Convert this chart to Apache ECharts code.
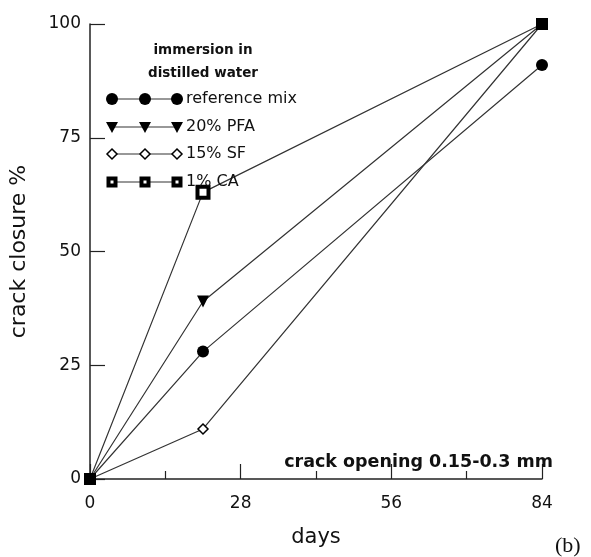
<!DOCTYPE html>
<html>
<head>
<meta charset="utf-8">
<script src="https://cdn.jsdelivr.net/npm/echarts@6/dist/echarts.min.js"></script>
<style>
  html, body { margin: 0; padding: 0; background: #fff; }
  #chart { width: 591px; height: 557px; }
</style>
</head>
<body>
<div id="chart"></div>
<script>
// Crack closure (%) over time for specimens immersed in distilled water
const days = [0, 21, 84];
const referenceMix = [0, 28, 91];
const pfa20 = [0, 39, 100];
const sf15 = [0, 11, 100];
const ca1 = [0, 63, 100];
const seriesNames = ['reference mix', '20% PFA', '15% SF', '1% CA'];
const legendTitle = ['immersion in', 'distilled water'];
const note = 'crack opening 0.15-0.3 mm';

const FONT = 'DejaVu Sans';
const LINE = { color: '#333', width: 1.2 };

function pairs(values) {
  return days.map((d, i) => [d, values[i]]);
}

const chart = echarts.init(document.getElementById('chart'), null, { renderer: 'canvas' });

// Marker definitions shared by the plot and the hand-drawn legend
const markers = [
  { symbol: 'circle', size: 12, style: { color: '#000' } },
  { symbol: 'triangle', size: 12, rotate: 180, style: { color: '#000' } },
  { symbol: 'diamond', size: 10, style: { color: '#fff', borderColor: '#000', borderWidth: 1.5 } },
  { symbol: 'rect', size: 11, style: { color: '#fff', borderColor: '#000', borderWidth: 4 } }
];

const seriesValues = [referenceMix, pfa20, sf15, ca1];

const series = seriesValues.map((vals, i) => {
  const m = markers[i];
  let data = pairs(vals);
  if (i === 3) {
    // end points of the CA curve are shown as solid squares
    data = data.map((p, j) => (j === 1 ? p : { value: p, itemStyle: { color: '#000', borderWidth: 0 }, symbolSize: 12 }));
  }
  return {
    name: seriesNames[i],
    type: 'line',
    data: data,
    symbol: m.symbol,
    symbolSize: m.size,
    symbolRotate: m.rotate || 0,
    showAllSymbol: true,
    lineStyle: LINE,
    itemStyle: Object.assign({ opacity: 1 }, m.style),
    emphasis: { disabled: true },
    z: 2 + i,
    animation: false
  };
});

// Legend: a short line with three markers per entry
const legendX = [112, 145, 177];
const legendY = [99, 127, 154, 182];
const graphics = [];
function markerShape(i, x, y) {
  const m = markers[i];
  const s = m.size / 2;
  const bw = m.style.borderWidth || 0;
  const st = { fill: m.style.color, stroke: m.style.borderColor || null, lineWidth: bw };
  if (m.symbol === 'circle') return { type: 'circle', shape: { cx: x, cy: y, r: s }, style: st, z: 10 };
  if (m.symbol === 'triangle') return { type: 'polygon', shape: { points: [[x - s, y - s + 1], [x + s, y - s + 1], [x, y + s]] }, style: st, z: 10 };
  if (m.symbol === 'diamond') return { type: 'polygon', shape: { points: [[x, y - s], [x + s, y], [x, y + s], [x - s, y]] }, style: st, z: 10 };
  return { type: 'rect', shape: { x: x - s + bw / 2, y: y - s + bw / 2, width: m.size - bw, height: m.size - bw }, style: st, z: 10 };
}
seriesNames.forEach((name, i) => {
  const y = legendY[i];
  graphics.push({ type: 'line', shape: { x1: legendX[0], y1: y, x2: legendX[2], y2: y }, style: { stroke: '#333', lineWidth: 1.2 }, z: 9 });
  legendX.forEach(x => graphics.push(markerShape(i, x, y)));
  graphics.push({ type: 'text', x: 186, y: y, style: { text: name, font: '16px "' + FONT + '"', fill: '#111', textVerticalAlign: 'middle', textAlign: 'left' }, z: 10 });
});
legendTitle.forEach((t, i) => {
  graphics.push({ type: 'text', x: 203, y: 50 + i * 23, style: { text: t, font: 'bold 13.5px "' + FONT + '"', fill: '#111', textAlign: 'center', textVerticalAlign: 'middle' }, z: 10 });
});
graphics.push({ type: 'text', x: 553, y: 462, style: { text: note, font: 'bold 17.5px "' + FONT + '"', fill: '#111', textAlign: 'right', textVerticalAlign: 'middle' }, z: 10 });
graphics.push({ type: 'text', x: 555, y: 546, style: { text: '(b)', font: '22px "Liberation Serif"', fill: '#111', textAlign: 'left', textVerticalAlign: 'middle' }, z: 10 });

const option = {
  backgroundColor: '#fff',
  animation: false,
  grid: { left: 87, right: 49, top: 24, bottom: 78, containLabel: false },
  xAxis: {
    type: 'value', min: 0, max: 84, interval: 28,
    name: 'days', nameLocation: 'middle', nameGap: 48,
    nameTextStyle: { fontFamily: FONT, fontSize: 21, color: '#111' },
    axisLine: { show: true, lineStyle: { color: '#222', width: 1.5 } },
    axisTick: { show: true, inside: true, length: 15, lineStyle: { color: '#222', width: 1.2 } },
    minorTick: { show: true, splitNumber: 2, length: 8, lineStyle: { color: '#222', width: 1.2 } },
    axisLabel: { fontFamily: FONT, fontSize: 17, color: '#111', margin: 16 },
    splitLine: { show: false }
  },
  yAxis: {
    type: 'value', min: 0, max: 100, interval: 25,
    name: 'crack closure %', nameLocation: 'middle', nameGap: 60, nameRotate: 90,
    nameTextStyle: { fontFamily: FONT, fontSize: 22, color: '#111' },
    axisLine: { show: true, lineStyle: { color: '#222', width: 1.5 } },
    axisTick: { show: true, inside: true, length: 15, lineStyle: { color: '#222', width: 1.2 } },
    axisLabel: { fontFamily: FONT, fontSize: 17, color: '#111', margin: 9 },
    splitLine: { show: false }
  },
  graphic: graphics,
  series: series
};
chart.setOption(option);
</script>
</body>
</html>
